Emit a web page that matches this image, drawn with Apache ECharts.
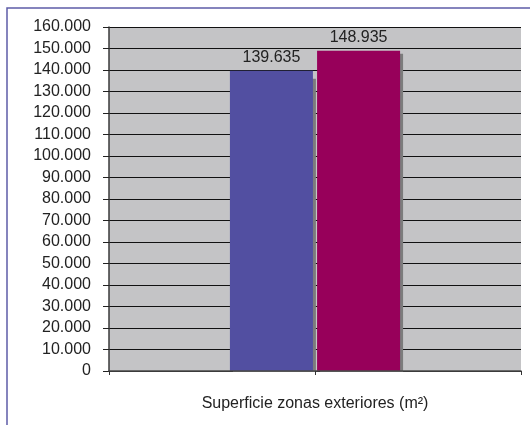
<!DOCTYPE html>
<html>
<head>
<meta charset="utf-8">
<script src="https://cdn.jsdelivr.net/npm/echarts@6/dist/echarts.min.js"></script>
<style>
  html, body { margin: 0; padding: 0; background: #fff; }
  #chart { width: 530px; height: 425px; }
</style>
</head>
<body>
<div id="chart"></div>
<script>
let categories = ['Superficie zonas exteriores (m²)']
let serieA = [139635]
let serieB = [148935]
let yMax = 160000
let yStep = 10000

let font = '"Liberation Sans Narrow", "Arial Narrow", "Liberation Sans", sans-serif'

// 160000 -> 160.000
function miles (v) {
  return String(Math.round(v)).replace(/\B(?=(\d{3})+(?!\d))/g, '.')
}

let chart = echarts.init(document.getElementById('chart'))
let options = {
  animation: false,
  backgroundColor: '#fff',
  graphic: [{
    type: 'rect',
    shape: { x: 7, y: 8, width: 560, height: 460 },
    style: { fill: 'none', stroke: '#5d5ca8', lineWidth: 1.5 },
    silent: true
  }, {
    // tapa la sombra de las barras bajo el eje
    type: 'rect', z: 5,
    shape: { x: 110, y: 372, width: 420, height: 10 },
    style: { fill: '#fff' },
    silent: true
  }],
  grid: {
    left: 109, right: 9, top: 27, bottom: 54,
    show: true, backgroundColor: '#c4c4c6', borderWidth: 0
  },
  xAxis: [{
    type: 'category',
    data: categories,
    z: 10,
    axisLine: { lineStyle: { color: '#4a4a4a', width: 1.5 } },
    axisTick: { show: true, length: 4, lineStyle: { color: '#333' } },
    axisLabel: { margin: 25, color: '#222', fontSize: 16, fontFamily: font }
  }, {
    // ticks del eje de categorias (bordes y centro)
    type: 'value', position: 'bottom', min: 0, max: 2, interval: 1,
    z: 10,
    axisLine: { show: false },
    axisTick: { show: true, length: 4, lineStyle: { color: '#333' } },
    axisLabel: { show: false },
    splitLine: { show: false }
  }],
  yAxis: {
    type: 'value',
    min: 0, max: yMax, interval: yStep,
    axisLine: { show: true, lineStyle: { color: '#3a3a3a', width: 1.5 } },
    axisTick: { show: true, length: 6, lineStyle: { color: '#222' } },
    axisLabel: {
      margin: 18, color: '#222', fontSize: 16, fontFamily: font,
      formatter: miles
    },
    splitLine: { lineStyle: { color: '#111', width: 1 } }
  },
  series: [{
    type: 'bar',
    data: serieA,
    barWidth: 83,
    barGap: '5%',
    itemStyle: {
      color: '#524fa1',
      shadowColor: '#7c7c7c', shadowBlur: 0, shadowOffsetX: 3, shadowOffsetY: 8
    },
    label: {
      show: true, position: 'top', distance: 5,
      color: '#222', fontSize: 16, fontFamily: font,
      formatter: p => miles(p.value)
    }
  }, {
    type: 'bar',
    data: serieB,
    barWidth: 83,
    itemStyle: {
      color: '#97005a',
      shadowColor: '#7c7c7c', shadowBlur: 0, shadowOffsetX: 3, shadowOffsetY: 3
    },
    label: {
      show: true, position: 'top', distance: 5,
      color: '#222', fontSize: 16, fontFamily: font,
      formatter: p => miles(p.value)
    }
  }]
}
chart.setOption(options)
</script>
</body>
</html>
